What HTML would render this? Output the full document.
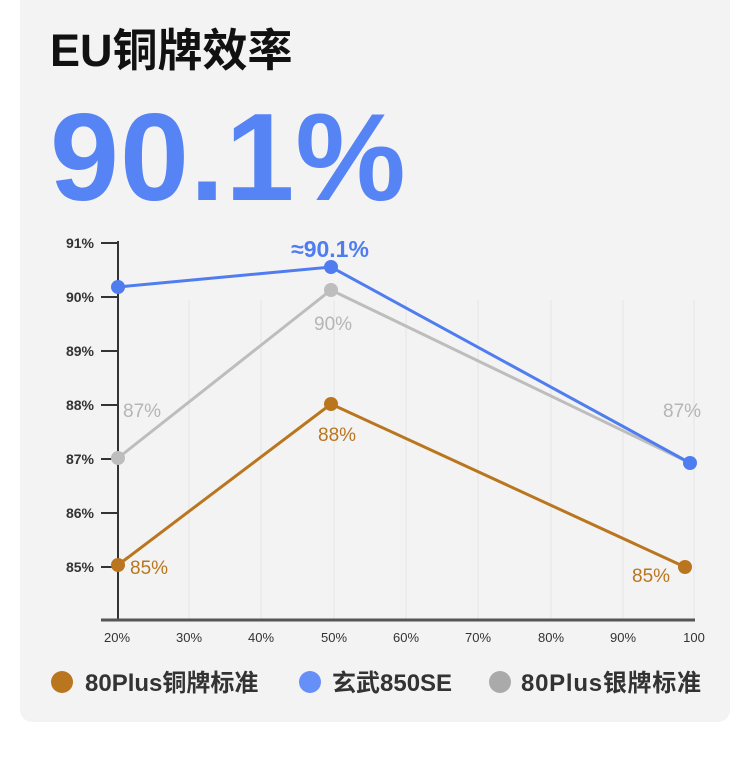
<!DOCTYPE html>
<html><head><meta charset="utf-8"><style>
body{margin:0;width:750px;height:757px;background:#fff;overflow:hidden;font-family:"Liberation Sans","Noto Sans CJK SC",sans-serif}
.card{position:absolute;left:20px;top:-10px;width:710px;height:732px;background:#f3f3f3;border-radius:12px}
.t{position:absolute;left:50px;top:14px;font-size:45px;font-weight:bold;color:#111;font-family:"Liberation Sans","Noto Sans CJK SC",sans-serif}
.big{position:absolute;left:50px;top:88px;font-size:124px;font-weight:bold;color:#5784f5;letter-spacing:1px;line-height:140px}
</style></head><body>
<div class="card"></div>
<div class="t">EU铜牌效率</div>
<div class="big">90.1%</div>
<svg width="750" height="757" style="position:absolute;left:0;top:0" font-family="Liberation Sans, Noto Sans CJK SC, sans-serif">
<g stroke="#e6e6e6" stroke-width="1">
<line x1="189" y1="300" x2="189" y2="620"/><line x1="261" y1="300" x2="261" y2="620"/><line x1="334" y1="300" x2="334" y2="620"/><line x1="406" y1="300" x2="406" y2="620"/><line x1="478" y1="300" x2="478" y2="620"/><line x1="551" y1="300" x2="551" y2="620"/><line x1="623" y1="300" x2="623" y2="620"/><line x1="694" y1="300" x2="694" y2="620"/>
</g>
<line x1="118" y1="241" x2="118" y2="620" stroke="#333" stroke-width="2"/>
<line x1="101" y1="620" x2="695" y2="620" stroke="#555" stroke-width="3"/>
<g stroke="#333" stroke-width="2">
<line x1="101" y1="243" x2="118" y2="243"/><line x1="101" y1="297" x2="118" y2="297"/><line x1="101" y1="351" x2="118" y2="351"/><line x1="101" y1="405" x2="118" y2="405"/><line x1="101" y1="459" x2="118" y2="459"/><line x1="101" y1="513" x2="118" y2="513"/><line x1="101" y1="567" x2="118" y2="567"/>
</g>
<g font-size="14" font-weight="bold" fill="#333" text-anchor="end">
<text x="94" y="248">91%</text><text x="94" y="302">90%</text><text x="94" y="356">89%</text><text x="94" y="410">88%</text><text x="94" y="464">87%</text><text x="94" y="518">86%</text><text x="94" y="572">85%</text>
</g>
<g font-size="13" fill="#333" text-anchor="middle">
<text x="117" y="642">20%</text><text x="189" y="642">30%</text><text x="261" y="642">40%</text><text x="334" y="642">50%</text><text x="406" y="642">60%</text><text x="478" y="642">70%</text><text x="551" y="642">80%</text><text x="623" y="642">90%</text><text x="694" y="642">100</text>
</g>
<polyline points="118,458 331,290 690,463" fill="none" stroke="#bdbdbd" stroke-width="3"/>
<polyline points="118,565 331,404 685,567" fill="none" stroke="#b9761f" stroke-width="3"/>
<polyline points="118,287 331,267 690,463" fill="none" stroke="#4f7df0" stroke-width="3"/>
<g fill="#bdbdbd"><circle cx="118" cy="458" r="7"/><circle cx="331" cy="290" r="7"/></g>
<g fill="#b9761f"><circle cx="118" cy="565" r="7"/><circle cx="331" cy="404" r="7"/><circle cx="685" cy="567" r="7"/></g>
<g fill="#4f7df0"><circle cx="118" cy="287" r="7"/><circle cx="331" cy="267" r="7"/><circle cx="690" cy="463" r="7"/></g>
<text x="330" y="257" font-size="23" font-weight="bold" fill="#4f7df0" text-anchor="middle">≈90.1%</text>
<g font-size="19" fill="#b5b5b5"><text x="123" y="417">87%</text><text x="314" y="330">90%</text><text x="663" y="417">87%</text></g>
<g font-size="19" fill="#b9761f"><text x="130" y="574">85%</text><text x="318" y="441">88%</text><text x="632" y="582">85%</text></g>
<circle cx="62" cy="682" r="11" fill="#b9761f"/>
<circle cx="310" cy="682" r="11" fill="#6690f7"/>
<circle cx="500" cy="682" r="11" fill="#aaa"/>
<g font-size="24" font-weight="bold" fill="#333">
<text x="85" y="691">80Plus铜牌标准</text><text x="332" y="691">玄武850SE</text><text x="521" y="691" textLength="180">80Plus银牌标准</text>
</g>
</svg>
</body></html>
